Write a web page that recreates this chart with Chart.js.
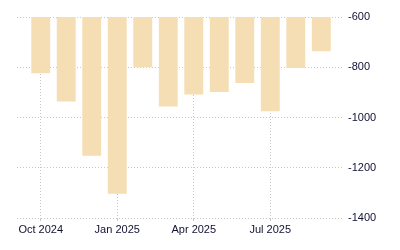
<!DOCTYPE html>
<html>
<head>
<meta charset="utf-8">
<script src="https://cdn.jsdelivr.net/npm/chart.js@4"></script>
<style>
  html, body { margin: 0; padding: 0; background: #fff; }
  #wrap { width: 400px; height: 250px; position: relative; }
</style>
</head>
<body>
<div id="wrap"><canvas id="c" width="400" height="250"></canvas></div>
<script>
const months = ["Oct 2024","Nov 2024","Dec 2024","Jan 2025","Feb 2025","Mar 2025","Apr 2025","May 2025","Jun 2025","Jul 2025","Aug 2025","Sep 2025"];
const values = [-824, -936, -1152, -1303, -800, -956, -908, -899, -863, -975, -803, -736];
const tickLabels = ["Oct 2024", "Jan 2025", "Apr 2025", "Jul 2025"];
const yTicks = [-600, -800, -1000, -1200, -1400];

const points = values.map((v, i) => ({ x: i, y: v }));
const tickIdx = tickLabels.map(l => months.indexOf(l));

const gridColor = '#c8c8c8';
const fontSpec = { family: 'Liberation Sans, Arial, sans-serif', size: 11 };

new Chart(document.getElementById('c'), {
  type: 'bar',
  data: {
    datasets: [{
      data: points,
      backgroundColor: '#F5DEB3',
      borderWidth: 0,
      categoryPercentage: 1,
      barPercentage: 0.74
    }]
  },
  options: {
    responsive: false,
    animation: false,
    devicePixelRatio: 1,
    layout: { padding: { left: 17, top: 17, right: 0, bottom: 0 } },
    plugins: { legend: { display: false }, tooltip: { enabled: false } },
    scales: {
      x: {
        type: 'linear',
        offset: false,
        min: -0.93,
        max: 11.85,
        afterBuildTicks: s => { s.ticks = tickIdx.map(v => ({ value: v })); },
        afterFit: s => { s.height = 32; },
        ticks: {
          callback: v => months[v],
          color: '#111133',
          font: fontSpec,
          padding: 2,
          maxRotation: 0,
          autoSkip: false
        },
        grid: {
          offset: false,
          color: gridColor,
          tickLength: 3,
          drawTicks: true
        },
        border: { display: false, dash: [1, 2] }
      },
      y: {
        position: 'right',
        min: -1400,
        max: -600,
        afterBuildTicks: s => { s.ticks = yTicks.map(v => ({ value: v })); },
        afterFit: s => { s.width = 57; },
        ticks: {
          callback: v => String(v),
          color: '#111133',
          font: fontSpec,
          padding: 5
        },
        grid: {
          color: gridColor,
          drawTicks: false
        },
        border: { display: false, dash: [1, 2] }
      }
    }
  }
});
</script>
</body>
</html>
